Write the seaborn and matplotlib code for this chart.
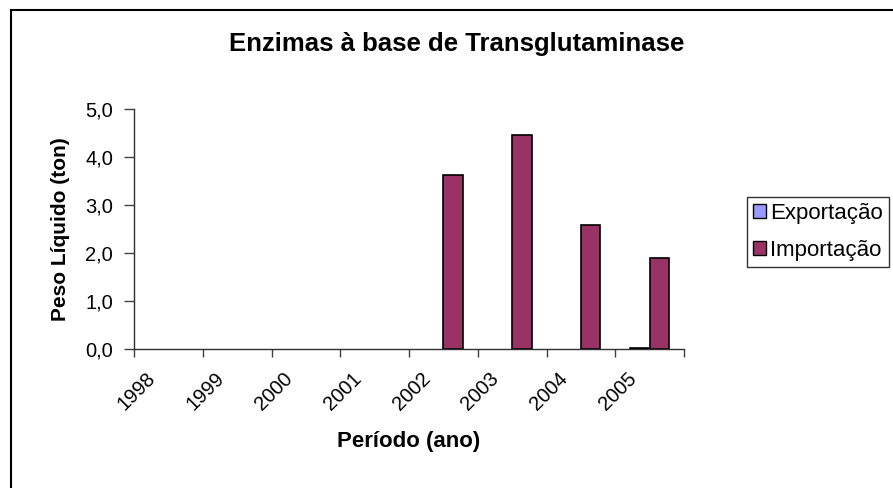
import matplotlib
matplotlib.use("Agg")
import matplotlib.pyplot as plt
import matplotlib.patches as mpatches
import matplotlib.transforms as mtransforms
from matplotlib.ticker import FixedLocator, FuncFormatter
import numpy as np
import pandas as pd
import seaborn as sns

sns.set_theme(style="white")
plt.rcParams["font.family"] = ["Liberation Sans", "DejaVu Sans"]
plt.rcParams["text.color"] = "black"
plt.rcParams["xtick.color"] = "black"
plt.rcParams["ytick.color"] = "black"
plt.rcParams["axes.labelcolor"] = "black"

anos = ["1998", "1999", "2000", "2001", "2002", "2003", "2004", "2005"]
exportacao = [0, 0, 0, 0, 0, 0, 0, 0.03]
importacao = [0, 0, 0, 0, 3.63, 4.46, 2.58, 1.90]

df = pd.DataFrame({
    "ano": anos * 2,
    "peso": exportacao + importacao,
    "tipo": ["Exportação"] * len(anos) + ["Importação"] * len(anos),
})

cores = {"Exportação": "#9999FF", "Importação": "#993366"}

fig = plt.figure(figsize=(8.93, 4.88), dpi=100)
ax = fig.add_axes([134 / 893, 1 - 349 / 488, 550 / 893, 240 / 488])

sns.barplot(
    data=df, x="ano", y="peso", hue="tipo", palette=cores, width=0.57,
    edgecolor="black", linewidth=1.2, ax=ax, legend=False, saturation=1
)

# Excel não desenha barras de altura zero
for p in ax.patches:
    if p.get_height() == 0:
        p.set_visible(False)

ax.set_xlim(-0.5, 7.5)
ax.set_ylim(0, 5)
ax.set_yticks(np.arange(0, 5.1, 1))
ax.yaxis.set_major_formatter(FuncFormatter(lambda v, _: f"{v:.1f}".replace(".", ",")))
ax.xaxis.set_minor_locator(FixedLocator(np.arange(-0.5, 8, 1)))
ax.tick_params(axis="x", which="major", length=0, pad=19, labelsize=14.5, labelcolor="black")
ax.tick_params(axis="x", which="minor", length=6, width=1, color="#404040", direction="out", bottom=True)
ax.tick_params(axis="y", length=7, width=1, color="#404040", direction="out", left=True,
               labelsize=14.5, pad=8, labelcolor="black")
desloc = mtransforms.ScaledTranslation(-16 / 100, 0, fig.dpi_scale_trans)
for lbl in ax.get_xticklabels():
    lbl.set_rotation(45)
    lbl.set_ha("right")
    lbl.set_va("center")
    lbl.set_rotation_mode("anchor")
    lbl.set_transform(lbl.get_transform() + desloc)

for s in ["top", "right"]:
    ax.spines[s].set_visible(False)
for s in ["left", "bottom"]:
    ax.spines[s].set_color("#303030")
    ax.spines[s].set_linewidth(1)

ax.set_xlabel("Período (ano)", fontsize=16, fontweight="bold", labelpad=12, color="black")
ax.set_ylabel("Peso Líquido (ton)", fontsize=15, fontweight="bold", labelpad=11, color="black")
fig.text(457 / 893, 1 - 44 / 488, "Enzimas à base de Transglutaminase",
         ha="center", va="center", fontsize=18.5, fontweight="bold", color="black")

handles = [mpatches.Patch(facecolor=cores[k], edgecolor="black", label=k) for k in cores]
leg = fig.legend(handles=handles, loc="upper left", bbox_to_anchor=(747 / 893, 1 - 197 / 488),
                 frameon=True, fancybox=False, edgecolor="black", fontsize=16,
                 handlelength=0.6, handleheight=0.6, handletextpad=0.2,
                 borderpad=0.25, labelspacing=0.75, borderaxespad=0)
leg.get_frame().set_linewidth(1)
for t in leg.get_texts():
    t.set_color("black")

fig.patches.append(mpatches.Rectangle((11 / 893, -0.1), 1.2, 1.1 - 9.5 / 488,
                                      transform=fig.transFigure, fill=False,
                                      edgecolor="black", linewidth=1.5))

fig.savefig("out.png", dpi=100)
